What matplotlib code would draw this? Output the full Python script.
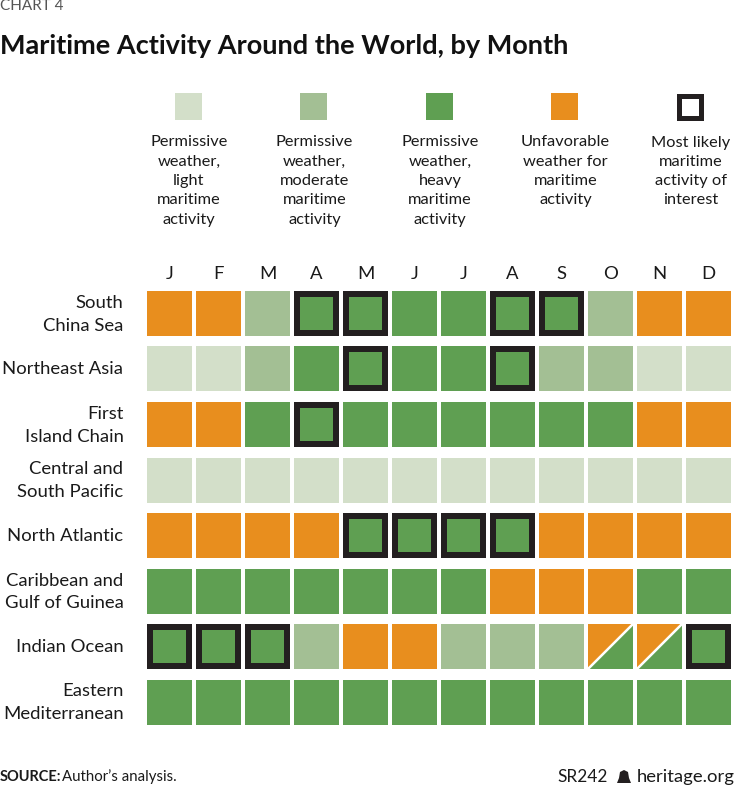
"""Maritime activity heat grid: regions by month."""

import matplotlib
matplotlib.use("Agg")
import matplotlib.pyplot as plt
from matplotlib.patches import Polygon, Rectangle
from matplotlib.transforms import ScaledTranslation

plt.rcParams["font.family"] = ["Lato", "DejaVu Sans"]

W, H = 734, 786

months = ["J", "F", "M", "A", "M", "J", "J", "A", "S", "O", "N", "D"]
regions = [
    "South\nChina Sea",
    "Northeast Asia",
    "First\nIsland Chain",
    "Central and\nSouth Pacific",
    "North Atlantic",
    "Caribbean and\nGulf of Guinea",
    "Indian Ocean",
    "Eastern\nMediterranean",
]

# L light, M moderate, H heavy, U unfavorable, S split unfavorable/heavy
activity = [
    "U U M H H H H H H M U U",
    "L L M H H H H H M M L L",
    "U U H H H H H H H H U U",
    "L L L L L L L L L L L L",
    "U U U U H H H H U U U U",
    "H H H H H H H U U U H H",
    "H H H M U U M M M S S H",
    "H H H H H H H H H H H H",
]

# months boxed as most likely activity of interest, per region
of_interest = [
    [3, 4, 7, 8],
    [4, 7],
    [3],
    [],
    [4, 5, 6, 7],
    [],
    [0, 1, 2, 11],
    [],
]

legend_labels = [
    "Permissive\nweather,\nlight\nmaritime\nactivity",
    "Permissive\nweather,\nmoderate\nmaritime\nactivity",
    "Permissive\nweather,\nheavy\nmaritime\nactivity",
    "Unfavorable\nweather for\nmaritime\nactivity",
    "Most likely\nmaritime\nactivity of\ninterest",
]

COLORS = {"L": "#d3dfc9", "M": "#a3bf94", "H": "#5f9f52", "U": "#e88e1e"}
BLACK = "#231f20"
TEXT = "#1a1a1a"

fig = plt.figure(figsize=(W / 100, H / 100), dpi=100, facecolor="white")

# page-level axes in pixel coordinates, for title, legend and footer
page = fig.add_axes([0, 0, 1, 1])
page.set_xlim(0, W)
page.set_ylim(H, 0)
page.axis("off")

page.text(0, 6, "CHART 4", fontsize=11, color="#555555", va="center", ha="left")
page.text(0, 46, "Maritime Activity Around the World, by Month", fontsize=19.5,
          fontweight="bold", color="#111111", va="center", ha="left")

# legend
for i, label in enumerate(legend_labels):
    cx = 188 + i * 125.5
    if i < 4:
        key = "LMHU"[i]
        page.add_patch(Rectangle((cx - 13.5, 93), 27, 27, fc=COLORS[key], ec="none"))
    else:
        page.add_patch(Rectangle((cx - 11, 95.5), 22, 22, fc="white", ec=BLACK, lw=3.6))
    page.text(cx + 1, 135.5, label, fontsize=11.8, color=TEXT, ha="center", va="top",
              linespacing=1.48)

# footer
page.text(0, 777, "SOURCE:", fontsize=10.5, fontweight="bold", color=TEXT,
          va="center", ha="left")
page.text(62, 777, "Author\u2019s analysis.", fontsize=10.8, color=TEXT,
          va="center", ha="left")
page.text(608, 777, "SR242", fontsize=12.4, color=TEXT, va="center", ha="right")
page.text(735, 777, "heritage.org", fontsize=13.3, color=TEXT, va="center", ha="right")
# bell mark
page.add_patch(Polygon([(617, 783), (631, 783), (629, 778), (628, 772), (624, 770),
                        (620, 772), (619, 778)], fc=BLACK, ec="none"))

# grid axes: one data unit per month/region
col_px, row_px = 49, 55.5
cell_w, cell_h = 45 / col_px, 45 / row_px
left, top = 145, 285.75
ax = fig.add_axes([left / W, 1 - (top + 8 * row_px) / H, 12 * col_px / W, 8 * row_px / H])
ax.set_xlim(-0.5, 11.5)
ax.set_ylim(7.5, -0.5)
ax.patch.set_alpha(0)
for s in ax.spines.values():
    s.set_visible(False)

ax.set_xticks(range(len(months)), months)
ax.xaxis.tick_top()
ax.set_yticks(range(len(regions)), regions, ha="right", linespacing=1.53)
ax.tick_params(axis="both", length=0, labelsize=13.3, colors=TEXT)
ax.tick_params(axis="x", pad=3)
ax.tick_params(axis="y", pad=15.5)

# two-line row labels sit higher than the cell centres, single lines about on them
for label in ax.get_yticklabels():
    up_px = 4 if "\n" in label.get_text() else 1
    nudge = ScaledTranslation(0, up_px / 100, fig.dpi_scale_trans)
    label.set_transform(label.get_transform() + nudge)

border_x, border_y = 6 / col_px, 6 / row_px

for r, row in enumerate(activity):
    for c, code in enumerate(row.split()):
        x0, y0 = c - cell_w / 2, r - cell_h / 2
        x1, y1 = x0 + cell_w, y0 + cell_h
        if code == "S":
            ax.add_patch(Polygon([(x0, y1), (x0, y0), (x1, y0)], fc=COLORS["U"], ec="none"))
            ax.add_patch(Polygon([(x0, y1), (x1, y1), (x1, y0)], fc=COLORS["H"], ec="none"))
            ax.plot([x0, x1], [y1, y0], color="white", lw=1.8, solid_capstyle="butt")
        elif c in of_interest[r]:
            ax.add_patch(Rectangle((x0, y0), cell_w, cell_h, fc=BLACK, ec="none"))
            ax.add_patch(Rectangle((x0 + border_x, y0 + border_y),
                                   cell_w - 2 * border_x, cell_h - 2 * border_y,
                                   fc=COLORS[code], ec="none"))
        else:
            ax.add_patch(Rectangle((x0, y0), cell_w, cell_h, fc=COLORS[code], ec="none"))

fig.savefig("out.png", dpi=100, facecolor="white")
